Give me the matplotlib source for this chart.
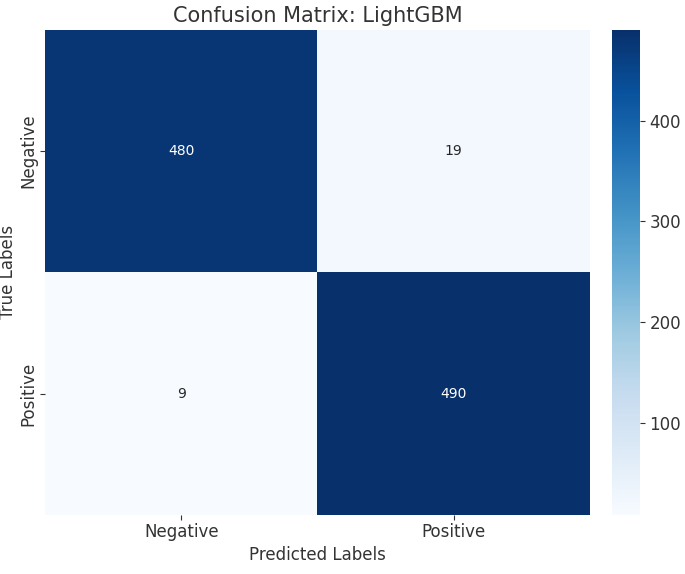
import matplotlib
matplotlib.use("Agg")
import matplotlib.pyplot as plt
import seaborn as sns
import numpy as np

labels = ["Negative", "Positive"]
cm = np.array([[480, 19], [9, 490]])

fig = plt.figure(figsize=(6.85, 5.74), dpi=100)
ax = fig.add_axes([0.066, 0.103, 0.795, 0.845])
cax = fig.add_axes([0.893, 0.103, 0.041, 0.845])
sns.heatmap(cm, annot=True, fmt="d", cmap="Blues", ax=ax, cbar_ax=cax,
            xticklabels=labels, yticklabels=labels, annot_kws={"fontsize": 10})
ax.set_title("Confusion Matrix: LightGBM", fontsize=15, color="#333333")
ax.set_xlabel("Predicted Labels", fontsize=12, color="#333333")
ax.set_ylabel("True Labels", fontsize=12, color="#333333", labelpad=2)
ax.tick_params(labelsize=12, colors="#333333", pad=2)
cax.tick_params(labelsize=12, colors="#333333")
fig.savefig("out.png", dpi=100)
